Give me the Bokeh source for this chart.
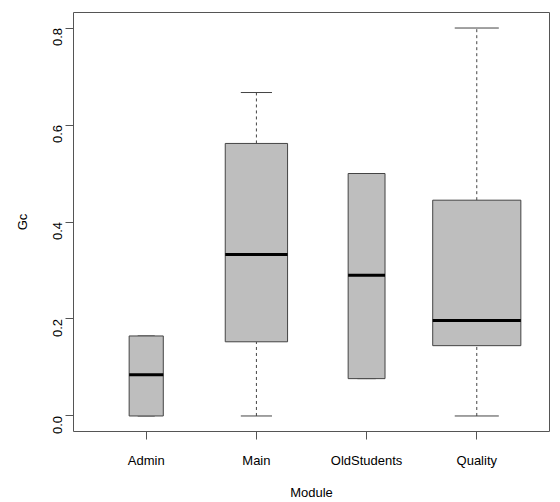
import math
from bokeh.plotting import figure
from bokeh.models import Range1d, FixedTicker, ColumnDataSource
from bokeh.embed import file_html
from bokeh.resources import INLINE

modules = ["Admin", "Main", "OldStudents", "Quality"]
n_obs = [6, 20, 7, 40]
lower_whisker = [0.0, 0.0, 0.077, 0.0]
q1 = [0.0, 0.153, 0.077, 0.145]
median = [0.085, 0.333, 0.29, 0.197]
q3 = [0.165, 0.562, 0.5, 0.445]
upper_whisker = [0.165, 0.667, 0.5, 0.8]
y_ticks = [0.0, 0.2, 0.4, 0.6, 0.8]

xs = list(range(1, len(modules) + 1))
maxn = max(n_obs)
widths = [0.8 * math.sqrt(n / maxn) for n in n_obs]

src = ColumnDataSource(dict(
    x=xs, w=widths,
    left=[x - w / 2 for x, w in zip(xs, widths)],
    right=[x + w / 2 for x, w in zip(xs, widths)],
    cl=[x - w / 4 for x, w in zip(xs, widths)],
    cr=[x + w / 4 for x, w in zip(xs, widths)],
    lo=lower_whisker, q1=q1, med=median, q3=q3, hi=upper_whisker,
))

p = figure(width=560, height=502, output_backend="svg", toolbar_location=None,
           x_range=Range1d(0.34, 4.66), y_range=Range1d(-0.032, 0.832),
           min_border_left=73, min_border_right=11, min_border_top=12, min_border_bottom=65)

p.grid.visible = False
p.outline_line_color = "#555555"
p.outline_line_width = 1
p.background_fill_color = "white"
p.border_fill_color = "white"

# whiskers
p.segment(x0="x", y0="q3", x1="x", y1="hi", source=src, line_color="#444444",
          line_width=1, line_dash="3 3")
p.segment(x0="x", y0="lo", x1="x", y1="q1", source=src, line_color="#444444",
          line_width=1, line_dash="3 3")
# caps
p.segment(x0="cl", y0="hi", x1="cr", y1="hi", source=src, line_color="#444444", line_width=1)
p.segment(x0="cl", y0="lo", x1="cr", y1="lo", source=src, line_color="#444444", line_width=1)
# boxes
p.quad(left="left", right="right", bottom="q1", top="q3", source=src,
       fill_color="#BEBEBE", line_color="#444444", line_width=1)
# medians
p.segment(x0="left", y0="med", x1="right", y1="med", source=src,
          line_color="black", line_width=3)

font = "Liberation Sans"
xa = p.xaxis[0]
xa.ticker = FixedTicker(ticks=xs)
xa.major_label_overrides = {x: m for x, m in zip(xs, modules)}
xa.axis_label = "Module"
ya = p.yaxis[0]
ya.ticker = FixedTicker(ticks=y_ticks)
ya.major_label_overrides = {t: f"{t:.1f}" for t in y_ticks}
ya.axis_label = "Gc"
ya.major_label_orientation = math.pi / 2

for ax in (xa, ya):
    ax.axis_line_color = None
    ax.major_tick_line_color = "#555555"
    ax.major_tick_out = 8
    ax.major_tick_in = 0
    ax.minor_tick_line_color = None
    ax.major_label_text_font = font
    ax.major_label_text_font_size = "13px"
    ax.major_label_text_color = "black"
    ax.axis_label_text_font = font
    ax.axis_label_text_font_size = "13px"
    ax.axis_label_text_font_style = "normal"
    ax.axis_label_text_color = "black"
xa.major_label_standoff = 13
ya.major_label_standoff = 8
xa.axis_label_standoff = 14
ya.axis_label_standoff = 16

open("out.html", "w").write(file_html(p, INLINE))
